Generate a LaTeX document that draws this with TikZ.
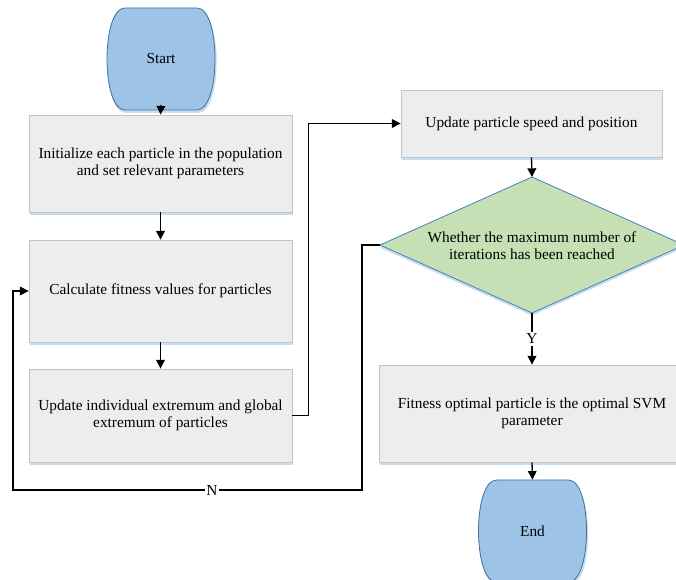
\documentclass[tikz,border=0pt]{standalone}
\usepackage{fontspec}
\setmainfont{Liberation Serif}
\usetikzlibrary{arrows.meta,shadows}
\definecolor{termfill}{HTML}{9DC3E6}
\definecolor{termdraw}{HTML}{41719C}
\definecolor{boxfill}{HTML}{EDEDED}
\definecolor{boxdraw}{HTML}{C4C4C4}
\definecolor{shadowblue}{HTML}{C9DDF0}
\definecolor{decfill}{HTML}{C5E0B4}
\definecolor{decdraw}{HTML}{4A7EBB}
\newcommand\termshape[2]{%
  \begin{scope}[shift={(#1,#2)}]
    \fill[shadowblue] (-35,-48) -- (37,-48) .. controls (62,-48) and (62,54) .. (37,54) -- (-35,54) .. controls (-60,54) and (-60,-48) .. (-35,-48) -- cycle;
    \path[draw=termdraw,fill=termfill,line width=0.6pt] (-36,-51) -- (36,-51) .. controls (60,-51) and (60,51) .. (36,51) -- (-36,51) .. controls (-60,51) and (-60,-51) .. (-36,-51) -- cycle;
  \end{scope}}
\begin{document}
\begin{tikzpicture}[x=0.75pt,y=-0.75pt,
  every node/.style={font=\fontsize{11.5}{12.9}\selectfont},
  procbox/.style={draw=boxdraw,fill=boxfill,line width=0.6pt,align=center,inner sep=0pt,
    drop shadow={shadow xshift=0.8pt,shadow yshift=-2.2pt,fill=shadowblue,opacity=1}},
  termnode/.style={minimum width=81pt,minimum height=76.5pt,inner sep=0pt},
  arr/.style={-{Triangle[length=6.5pt,width=6.5pt]},line width=1pt,black}]
\useasboundingbox (0,0) rectangle (676,580);

% terminals
\termshape{161}{59}
\node[termnode] (start) at (161,59) {Start};
\termshape{532.5}{531}
\node[termnode] (end) at (532.5,531) {End};

% process boxes
\node[procbox,minimum width=197.25pt,minimum height=72.75pt] (init) at (160.5,163.5)
  {Initialize each particle in the population\\and set relevant parameters};
\node[procbox,minimum width=197.25pt,minimum height=76.5pt] (calc) at (160.5,291)
  {Calculate fitness values for particles};
\node[procbox,minimum width=197.25pt,minimum height=69.75pt] (upd) at (160.5,415.5)
  {Update individual extremum and global\\extremum of particles};
\node[procbox,minimum width=195.75pt,minimum height=50.25pt] (speed) at (531.5,123.5)
  {Update particle speed and position};
\node[procbox,minimum width=229.5pt,minimum height=72.75pt] (fit) at (532,413.5)
  {Fitness optimal particle is the optimal SVM\\parameter};

% decision diamond
\coordinate (dtop) at (532,177);
\coordinate (dright) at (684,245);
\coordinate (dbot) at (532,313);
\coordinate (dleft) at (380,245);
\fill[shadowblue] ([yshift=-2pt]dtop) -- ([yshift=-2pt]dright) -- ([yshift=-2pt]dbot) -- ([yshift=-2pt]dleft) -- cycle;
\draw[draw=decdraw,fill=decfill,line width=0.6pt] (dtop) -- (dright) -- (dbot) -- (dleft) -- cycle;
\node[align=center] (dec) at (532,245.5) {Whether the maximum number of\\iterations has been reached};

% connectors
\draw[arr] ([yshift=4pt]start.south) -- (init.north);
\draw[arr] (init.south) -- (calc.north);
\draw[arr] (calc.south) -- (upd.north);
\draw[arr] (upd.east) -- ++(16,0) |- (speed.west);
\draw[arr] (speed.south) -- (dtop);
\draw[arr] (dbot) -- node[fill=white,inner sep=1.5pt] {Y} (fit.north);
\draw[arr] (fit.south) -- (end.north);
\coordinate (nb) at (362,490);
\coordinate (nl) at (13,490);
\draw[arr] (dleft) -| (nb) -- node[pos=0.43,fill=white,inner sep=1pt] {N} (nl) |- (calc.west);
\end{tikzpicture}
\end{document}
